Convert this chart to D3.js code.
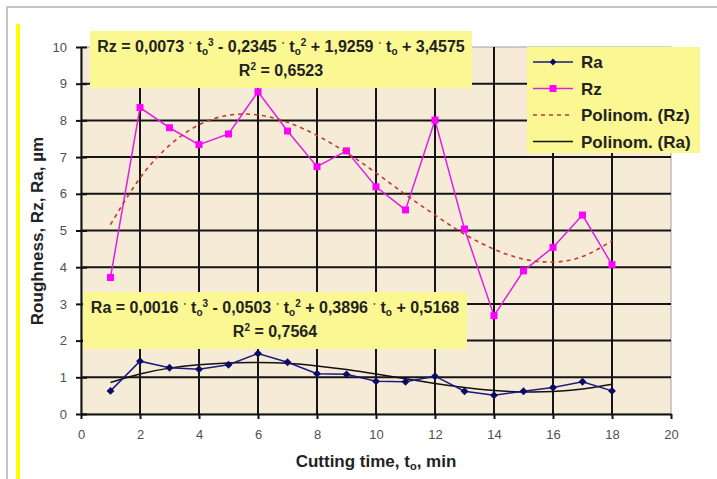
<!DOCTYPE html>
<html><head><meta charset="utf-8">
<script src="https://cdn.jsdelivr.net/npm/d3@7"></script>
<style>
html,body{margin:0;padding:0;background:#fff;}
svg{display:block;font-family:Arial,"Liberation Sans",sans-serif;}
</style></head>
<body><svg id="c" width="717" height="479"></svg>
<script>
// ---- data ----
const times = [1,2,3,4,5,6,7,8,9,10,11,12,13,14,15,16,17,18];
const rzValues = [3.72,8.35,7.8,7.34,7.63,8.78,7.71,6.74,7.17,6.19,5.56,8.01,5.04,2.68,3.9,4.54,5.42,4.07];
const raValues = [0.63,1.44,1.26,1.22,1.34,1.65,1.41,1.1,1.08,0.89,0.88,1.03,0.62,0.51,0.62,0.72,0.88,0.63];
const rzTrend = [5.16,6.43,7.32,7.88,8.14,8.15,7.95,7.59,7.12,6.57,5.98,5.42,4.9,4.49,4.22,4.14,4.29,4.72];
const raTrend = [0.86,1.09,1.25,1.34,1.39,1.4,1.38,1.31,1.21,1.09,0.96,0.83,0.72,0.64,0.6,0.61,0.68,0.81];
const xTicks = [0,2,4,6,8,10,12,14,16,18,20];
const yTicks = [0,1,2,3,4,5,6,7,8,9,10];
const legendItems = ["Ra","Rz","Polinom. (Rz)","Polinom. (Ra)"];

const svg = d3.select("#c");
const x = d3.scaleLinear().domain([0,20]).range([81,671]);
const y = d3.scaleLinear().domain([0,10]).range([414,47]);
const FONT = 'Arial,"Liberation Sans",sans-serif';

// outer frame
svg.append("rect").attr("x",7).attr("y",7).attr("width",730).attr("height",500)
  .attr("fill","#fff").attr("stroke","#c4c4c4").attr("stroke-width",2);
svg.append("rect").attr("x",16).attr("y",24).attr("width",4).attr("height",460).attr("fill","#ffff00");

// plot background
svg.append("rect").attr("x",x(0)).attr("y",y(10)).attr("width",x(20)-x(0)).attr("height",y(0)-y(10))
  .attr("fill","#f6ebd7").attr("stroke","#a0a0a0").attr("stroke-width",1);

// gridlines
const grid = svg.append("g").attr("stroke","#151515").attr("stroke-width",2);
grid.selectAll(".gh").data(yTicks.filter(d=>d>0&&d<10)).join("line")
  .attr("x1",x(0)).attr("x2",x(20)).attr("y1",d=>y(d)).attr("y2",d=>y(d));
grid.selectAll(".gv").data(xTicks.filter(d=>d>0&&d<20)).join("line")
  .attr("y1",y(0)).attr("y2",y(10)).attr("x1",d=>x(d)).attr("x2",d=>x(d));

// axes
const yAxis = svg.append("g").attr("transform",`translate(${x(0)},0)`)
  .call(d3.axisLeft(y).tickValues(yTicks).tickSizeInner(5).tickSizeOuter(0).tickPadding(9));
yAxis.selectAll(".tick line").attr("x2",-5).attr("x1",6);
const xAxis = svg.append("g").attr("transform",`translate(0,${y(0)})`)
  .call(d3.axisBottom(x).tickValues(xTicks).tickSizeInner(5).tickSizeOuter(0).tickPadding(11));
[yAxis,xAxis].forEach(a=>{
  a.select(".domain").attr("stroke","#111").attr("stroke-width",2);
  a.selectAll(".tick line").attr("stroke","#111").attr("stroke-width",2);
  a.selectAll(".tick text").attr("fill","#505050").style("font-size","13px").style("font-family",FONT);
});

// series
const lineGen = d3.line().x((d,i)=>x(times[i])).y(d=>y(d));
const curveGen = d3.line().x((d,i)=>x(times[i])).y(d=>y(d)).curve(d3.curveNatural);

svg.append("path").attr("d",curveGen(raTrend)).attr("fill","none").attr("stroke","#111").attr("stroke-width",1.5);
svg.append("path").attr("d",lineGen(raValues)).attr("fill","none").attr("stroke","#1a1a80").attr("stroke-width",1.5);
svg.selectAll(".ram").data(raValues).join("path")
  .attr("transform",(d,i)=>`translate(${x(times[i])},${y(d)})`)
  .attr("d",d3.symbol(d3.symbolDiamond2,40)()).attr("fill","#0b0b66");

svg.append("path").attr("d",lineGen(rzValues)).attr("fill","none").attr("stroke","#e020e0").attr("stroke-width",1.5);
svg.selectAll(".rzm").data(rzValues).join("rect")
  .attr("x",(d,i)=>x(times[i])-3.5).attr("y",d=>y(d)-3.5).attr("width",7).attr("height",7).attr("fill","#ff00ff");
svg.append("path").attr("d",curveGen(rzTrend)).attr("fill","none").attr("stroke","#c0392b")
  .attr("stroke-width",1.6).attr("stroke-dasharray","4,4");

// equation labels
function eqLabel(x0,y0,w,h,prefix,coefs,r2){
  const g = svg.append("g");
  g.append("rect").attr("x",x0).attr("y",y0).attr("width",w).attr("height",h).attr("fill","#fbf894");
  const t = g.append("text").attr("x",x0+w/2).attr("y",y0+21).attr("text-anchor","middle")
    .style("font-size","16px").style("font-weight","bold").attr("fill","#222");
  t.append("tspan").text(prefix+" = "+coefs[0]+" ");
  const dot = ()=>{t.append("tspan").attr("dy",-4).style("font-size","11px").text("ˑ");t.append("tspan").attr("dy",4).text(" t");t.append("tspan").attr("dy",3).style("font-size","10px").text("o");};
  dot(); t.append("tspan").attr("dy",-9).style("font-size","10px").text("3");
  t.append("tspan").attr("dy",6).text(" - "+coefs[1]+" ");
  dot(); t.append("tspan").attr("dy",-9).style("font-size","10px").text("2");
  t.append("tspan").attr("dy",6).text(" + "+coefs[2]+" ");
  dot(); t.append("tspan").attr("dy",-3).text(" + "+coefs[3]);
  const t2 = g.append("text").attr("x",x0+w/2).attr("y",y0+45).attr("text-anchor","middle")
    .style("font-size","16px").style("font-weight","bold").attr("fill","#222");
  t2.append("tspan").text("R");
  t2.append("tspan").attr("dy",-6).style("font-size","10px").text("2");
  t2.append("tspan").attr("dy",6).text(" = "+r2);
}
eqLabel(90,31,382,57,"Rz",["0,0073","0,2345","1,9259","3,4575"],"0,6523");
eqLabel(83,292,384,57,"Ra",["0,0016","0,0503","0,3896","0,5168"],"0,7564");

// legend
const lg = svg.append("g");
lg.append("rect").attr("x",527).attr("y",47).attr("width",173).attr("height",106).attr("fill","#fbf894");
const ly = [62,88.5,115,141.5];
legendItems.forEach((name,i)=>{
  const yy = ly[i];
  const ln = lg.append("line").attr("x1",533).attr("x2",573).attr("y1",yy).attr("y2",yy).attr("stroke-width",1.5);
  if(i===0){ ln.attr("stroke","#1a1a80");
    lg.append("path").attr("transform",`translate(553,${yy})`).attr("d",d3.symbol(d3.symbolDiamond2,30)()).attr("fill","#0b0b66"); }
  else if(i===1){ ln.attr("stroke","#e020e0");
    lg.append("rect").attr("x",549.5).attr("y",yy-3.5).attr("width",7).attr("height",7).attr("fill","#ff00ff"); }
  else if(i===2){ ln.attr("stroke","#c0392b").attr("stroke-dasharray","4,4"); }
  else { ln.attr("stroke","#111"); }
  lg.append("text").attr("x",581).attr("y",yy+6).text(name)
    .style("font-size","17px").style("font-weight","bold").attr("fill","#222");
});

// axis titles
const xt = svg.append("text").attr("x",376).attr("y",467).attr("text-anchor","middle")
  .style("font-size","17px").style("font-weight","bold").attr("fill","#222");
xt.append("tspan").text("Cutting time, t");
xt.append("tspan").attr("dy",3).style("font-size","11px").text("o");
xt.append("tspan").attr("dy",-3).text(", min");
svg.append("text").attr("transform","translate(43,231) rotate(-90)").attr("text-anchor","middle")
  .style("font-size","17px").style("font-weight","bold").attr("fill","#222").text("Roughness, Rz, Ra, µm");
</script></body></html>
